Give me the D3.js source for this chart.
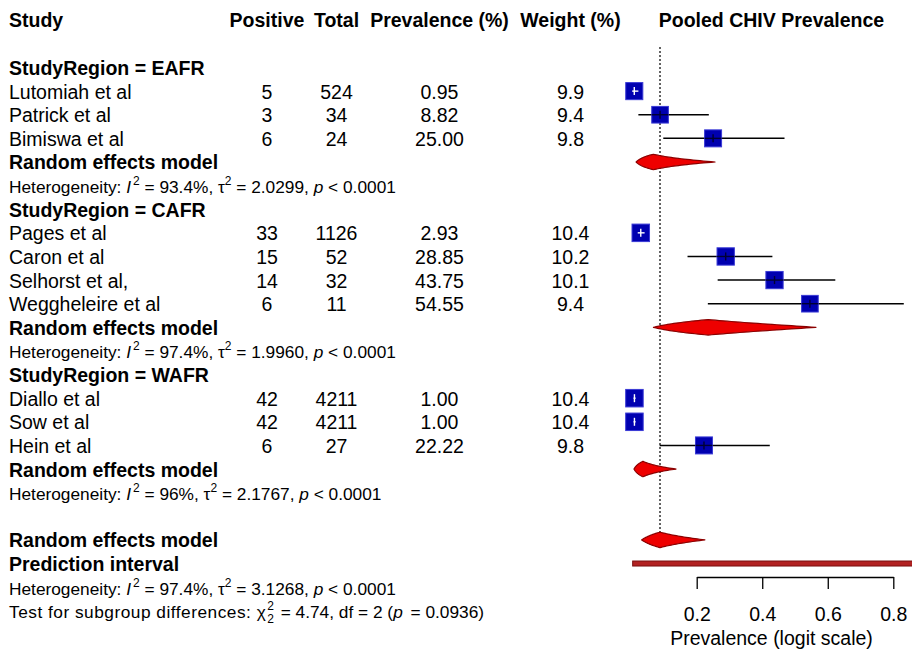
<!DOCTYPE html>
<html>
<head>
<meta charset="utf-8">
<script src="https://cdn.jsdelivr.net/npm/d3@7"></script>
<style>
  html, body { margin: 0; padding: 0; background: #fff; }
  svg { display: block; font-family: "Liberation Sans", Arial, sans-serif; }
</style>
</head>
<body>
<svg id="chart" width="912" height="651"></svg>
<script>
// ---------------- data ----------------
const regions = ["EAFR", "CAFR", "WAFR"];
const studies = ["Lutomiah et al", "Patrick et al", "Bimiswa et al", "Pages et al", "Caron et al",
  "Selhorst et al,", "Weggheleire et al", "Diallo et al", "Sow et al", "Hein et al"];
const studyRegion = ["EAFR", "EAFR", "EAFR", "CAFR", "CAFR", "CAFR", "CAFR", "WAFR", "WAFR", "WAFR"];
const positive = [5, 3, 6, 33, 15, 14, 6, 42, 42, 6];
const total = [524, 34, 24, 1126, 52, 32, 11, 4211, 4211, 27];
const prevalencePct = [0.95, 8.82, 25.00, 2.93, 28.85, 43.75, 54.55, 1.00, 1.00, 22.22];
const weightPct = [9.9, 9.4, 9.8, 10.4, 10.2, 10.1, 9.4, 10.4, 10.4, 9.8];
const ciLower = [0.0031, 0.022, 0.098, 0.020, 0.172, 0.264, 0.234, 0.0072, 0.0072, 0.087];
const ciUpper = [0.022, 0.237, 0.468, 0.041, 0.431, 0.623, 0.832, 0.0135, 0.0135, 0.423];

const regionEst = [0.068, 0.235, 0.036];
const regionLower = [0.015, 0.068, 0.0086];
const regionUpper = [0.256, 0.564, 0.137];
const regionI2 = ["93.4%", "97.4%", "96%"];
const regionTau2 = ["2.0299", "1.9960", "2.1767"];
const regionP = ["0.0001", "0.0001", "0.0001"];

const overallEst = 0.088, overallLower = 0.032, overallUpper = 0.225;
const predLower = 0.0046, predUpper = 0.92;
const overallI2 = "97.4%", overallTau2 = "3.1268", overallP = "0.0001";
const subgroupChi2 = "4.74", subgroupDf = "2", subgroupP = "0.0936";

const axisTicks = [0.2, 0.4, 0.6, 0.8];
const headers = ["Study", "Positive", "Total", "Prevalence (%)", "Weight (%)", "Pooled CHIV Prevalence"];

// ---------------- layout ----------------
const svg = d3.select("#chart");
svg.append("rect").attr("width", 912).attr("height", 651).attr("fill", "#fff");

const FS = 19.5, FSH = 17.3;
const colX = { study: 9, pos: 267, tot: 336.5, prev: 439.5, wt: 570.5, plot: 771.5 };
const headerY = 27;
const rowY = i => 75 + 23.62 * i;
const markOff = -7.5;

const x = d3.scaleLinear().domain([0.2, 0.8]).range([696.7, 893.3]);
const logit = p => Math.log(p / (1 - p));
const expit = z => 1 / (1 + Math.exp(-z));

// build rows
const rows = [];
let r = 0;
regions.forEach((reg, gi) => {
  rows.push({ type: "group", row: r++, label: "StudyRegion = " + reg });
  studies.forEach((s, si) => {
    if (studyRegion[si] === reg) rows.push({ type: "study", row: r++, idx: si });
  });
  rows.push({ type: "pooled", row: r++, est: regionEst[gi], lo: regionLower[gi], hi: regionUpper[gi] });
  rows.push({ type: "het", row: r++, i2: regionI2[gi], tau2: regionTau2[gi], p: regionP[gi] });
});
r++; // blank row
const overallRow = r;
rows.push({ type: "pooled", row: r++, est: overallEst, lo: overallLower, hi: overallUpper });
rows.push({ type: "predlabel", row: r++ });
rows.push({ type: "het", row: r++, i2: overallI2, tau2: overallTau2, p: overallP });
rows.push({ type: "subgroup", row: r++ });

// ---------------- headers ----------------
const hdr = svg.append("g").attr("font-weight", "bold").attr("font-size", FS).attr("fill", "#000");
hdr.append("text").attr("x", colX.study).attr("y", headerY).text(headers[0]);
[["pos", 1], ["tot", 2], ["prev", 3], ["wt", 4], ["plot", 5]].forEach(([k, i]) => {
  hdr.append("text").attr("x", colX[k]).attr("y", headerY).attr("text-anchor", "middle").text(headers[i]);
});

// ---------------- reference (dotted) line ----------------
svg.append("line")
  .attr("x1", x(overallEst)).attr("x2", x(overallEst))
  .attr("y1", 47).attr("y2", rowY(overallRow) + markOff)
  .attr("stroke", "#222").attr("stroke-width", 1.4).attr("stroke-dasharray", "2,2");

// ---------------- text + marks ----------------
const txt = svg.append("g").attr("font-size", FS).attr("fill", "#000");
const marks = svg.append("g");

function diamondPath(est, lo, hi, cy, h) {
  const n = 24, pts = [];
  const zl = logit(lo), zc = logit(est), zh = logit(hi);
  for (let k = 0; k <= n; k++) { const z = zl + (zc - zl) * k / n; pts.push([x(expit(z)), cy - h / 2 * k / n]); }
  for (let k = 1; k <= n; k++) { const z = zc + (zh - zc) * k / n; pts.push([x(expit(z)), cy - h / 2 * (1 - k / n)]); }
  for (let k = 1; k <= n; k++) { const z = zh - (zh - zc) * k / n; pts.push([x(expit(z)), cy + h / 2 * k / n]); }
  for (let k = 1; k < n; k++) { const z = zc - (zc - zl) * k / n; pts.push([x(expit(z)), cy + h / 2 * (1 - k / n)]); }
  return d3.line()(pts) + "Z";
}

function hetText(g, y, d) {
  const t = g.append("text").attr("x", colX.study).attr("y", y).attr("font-size", FSH);
  t.append("tspan").text("Heterogeneity: ");
  t.append("tspan").attr("font-style", "italic").text("I");
  t.append("tspan").attr("font-size", 12).attr("dy", -8).attr("dx", 2).text("2");
  t.append("tspan").attr("dy", 8).text(" = " + d.i2 + ", \u03c4");
  t.append("tspan").attr("font-size", 12).attr("dy", -8).text("2");
  t.append("tspan").attr("dy", 8).text(" = " + d.tau2 + ", ");
  t.append("tspan").attr("font-style", "italic").text("p");
  t.append("tspan").text(" < " + d.p);
}

rows.forEach(d => {
  const y = rowY(d.row);
  const cy = y + markOff;
  if (d.type === "group") {
    txt.append("text").attr("x", colX.study).attr("y", y).attr("font-weight", "bold").text(d.label);
  } else if (d.type === "study") {
    const i = d.idx;
    txt.append("text").attr("x", colX.study).attr("y", y).text(studies[i]);
    txt.append("text").attr("x", colX.pos).attr("y", y).attr("text-anchor", "middle").text(positive[i]);
    txt.append("text").attr("x", colX.tot).attr("y", y).attr("text-anchor", "middle").text(total[i]);
    txt.append("text").attr("x", colX.prev).attr("y", y).attr("text-anchor", "middle").text(prevalencePct[i].toFixed(2));
    txt.append("text").attr("x", colX.wt).attr("y", y).attr("text-anchor", "middle").text(weightPct[i].toFixed(1));
    const est = prevalencePct[i] / 100;
    const s = 17.5 * Math.sqrt(weightPct[i] / 10.4);
    const xl = x(ciLower[i]), xh = x(ciUpper[i]), xe = x(est);
    marks.append("line").attr("x1", xl).attr("x2", xh).attr("y1", cy).attr("y2", cy)
      .attr("stroke", "#000").attr("stroke-width", 1.5);
    marks.append("rect").attr("x", xe - s / 2).attr("y", cy - s / 2).attr("width", s).attr("height", s)
      .attr("fill", "#0000b0").attr("stroke", "#3a3ad6").attr("stroke-width", 1);
    const inside = (xh - xl) < s;
    const c = inside ? "#fff" : "#000033";
    marks.append("line").attr("x1", Math.max(xl, xe - s / 2)).attr("x2", Math.min(xh, xe + s / 2))
      .attr("y1", cy).attr("y2", cy).attr("stroke", c).attr("stroke-width", 1.4);
    marks.append("line").attr("x1", xe).attr("x2", xe).attr("y1", cy - 4).attr("y2", cy + 4)
      .attr("stroke", c).attr("stroke-width", 1.4);
  } else if (d.type === "pooled") {
    txt.append("text").attr("x", colX.study).attr("y", y).attr("font-weight", "bold").text("Random effects model");
    marks.append("path").attr("d", diamondPath(d.est, d.lo, d.hi, cy, 15.5))
      .attr("fill", "#ee0000").attr("stroke", "#8b0000").attr("stroke-width", 1.2).attr("stroke-linejoin", "round");
  } else if (d.type === "het") {
    hetText(txt, y, d);
  } else if (d.type === "predlabel") {
    txt.append("text").attr("x", colX.study).attr("y", y).attr("font-weight", "bold").text("Prediction interval");
    marks.append("rect").attr("x", x(predLower)).attr("y", cy - 2.5)
      .attr("width", x(predUpper) - x(predLower)).attr("height", 5)
      .attr("fill", "#b22222").attr("stroke", "#7a1010").attr("stroke-width", 1);
  } else if (d.type === "subgroup") {
    const t = txt.append("text").attr("x", colX.study).attr("y", y).attr("font-size", FSH);
    t.append("tspan").attr("letter-spacing", 0.5).text("Test for subgroup differences: ");
    t.append("tspan").text("\u03c7");
    t.append("tspan").attr("font-size", 12).attr("dy", -8).attr("dx", 1.5).text("2");
    t.append("tspan").attr("font-size", 12).attr("dy", 13).attr("dx", -6.7).text("2");
    t.append("tspan").attr("dy", -5).attr("dx", 2).text(" = " + subgroupChi2 + ", df = " + subgroupDf + " (");
    t.append("tspan").attr("font-style", "italic").text("p");
    t.append("tspan").attr("dx", 3).text(" = " + subgroupP + ")");
  }
});

// ---------------- axis ----------------
const axisY = 577;
const axisG = svg.append("g").attr("transform", `translate(0,${axisY})`)
  .call(d3.axisBottom(x).tickValues(axisTicks).tickSize(12).tickSizeOuter(0).tickPadding(22)
    .tickFormat(d3.format(".1f")));
axisG.select(".domain").attr("stroke", "#000").attr("stroke-width", 1.3);
axisG.selectAll(".tick line").attr("stroke", "#000").attr("stroke-width", 1.3);
axisG.selectAll(".tick text").attr("font-size", FS).attr("font-family", "Liberation Sans, Arial, sans-serif")
  .attr("fill", "#000").attr("dy", 0).attr("y", 44);

svg.append("text").attr("x", colX.plot).attr("y", 645).attr("text-anchor", "middle")
  .attr("font-size", FS).attr("fill", "#000").text("Prevalence (logit scale)");
</script>
</body>
</html>
